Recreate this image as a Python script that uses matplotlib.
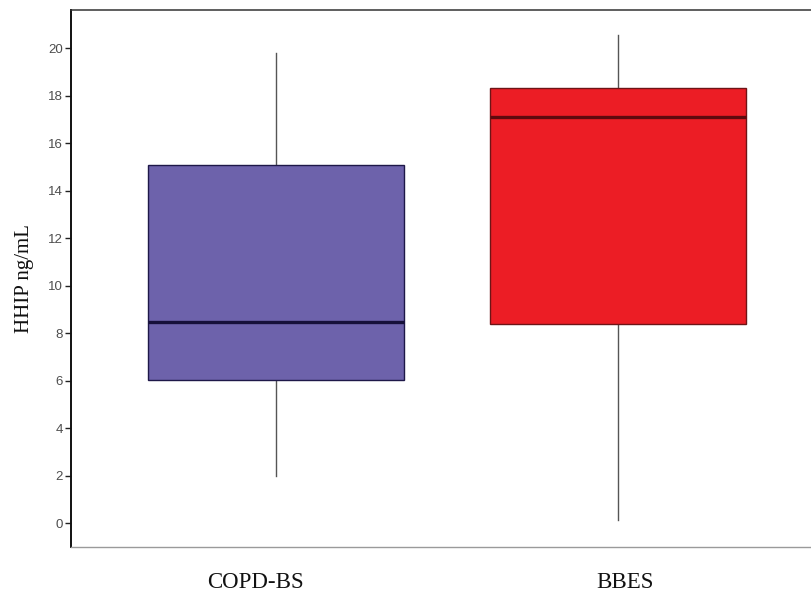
import matplotlib.pyplot as plt
import matplotlib.transforms as mtransforms

# box summary values
groups = ["COPD-BS", "BBES"]
whis_low = [1.98, 0.13]
q1 = [6.02, 8.38]
median = [8.46, 17.1]
q3 = [15.07, 18.3]
whis_high = [19.8, 20.55]

face_colors = ["#6D62AB", "#EC1D25"]
edge_colors = ["#1E1848", "#6E1416"]
median_colors = ["#16103A", "#5E0A0E"]

fig = plt.figure(figsize=(8.11, 5.99), dpi=100)
ax = fig.add_axes([71 / 811, 52 / 599, 752 / 811, 537 / 599])

stats = []
for i, g in enumerate(groups):
    stats.append({"label": g, "whislo": whis_low[i], "q1": q1[i], "med": median[i],
                  "q3": q3[i], "whishi": whis_high[i], "fliers": []})

positions = [1, 2]
bp = ax.bxp(stats, positions=positions, widths=0.75, patch_artist=True,
            showcaps=False, showfliers=False)

for i, box in enumerate(bp["boxes"]):
    box.set_facecolor(face_colors[i])
    box.set_edgecolor(edge_colors[i])
    box.set_linewidth(1.0)
for i, m in enumerate(bp["medians"]):
    m.set_color(median_colors[i])
    m.set_linewidth(2.4)
for w in bp["whiskers"]:
    w.set_color("#555555")
    w.set_linewidth(1.0)
    w.set_zorder(1)

ax.set_xlim(0.4, 2.6)
ax.set_ylim(-1.0, 21.6)
ax.set_yticks(range(0, 21, 2))
ax.set_xticks([])
ax.tick_params(axis="y", direction="out", length=4, width=1, color="#222222",
               labelsize=9.5, labelcolor="#4D4D4D", pad=2)
for lbl in ax.get_yticklabels():
    lbl.set_family(["Liberation Sans", "DejaVu Sans"])

ax.spines["left"].set_color("#111111")
ax.spines["left"].set_linewidth(1.4)
ax.spines["top"].set_color("#333333")
ax.spines["top"].set_linewidth(1.1)
ax.spines["bottom"].set_color("#9A9A9A")
ax.spines["bottom"].set_linewidth(1.0)
ax.spines["right"].set_visible(False)

ax.set_ylabel("HHIP ng/mL", family=["Liberation Serif", "DejaVu Serif"],
              fontsize=15, color="#111111", labelpad=10)

# group names under the axis
trans = mtransforms.blended_transform_factory(ax.transData, fig.transFigure)
label_x = [0.94, 2.02]
for x, g in zip(label_x, groups):
    ax.text(x, 1 - 583 / 599, g, transform=trans, ha="center", va="center",
            family=["Liberation Serif", "DejaVu Serif"], fontsize=16.5, color="#111111")

fig.savefig("out.png", dpi=100)
